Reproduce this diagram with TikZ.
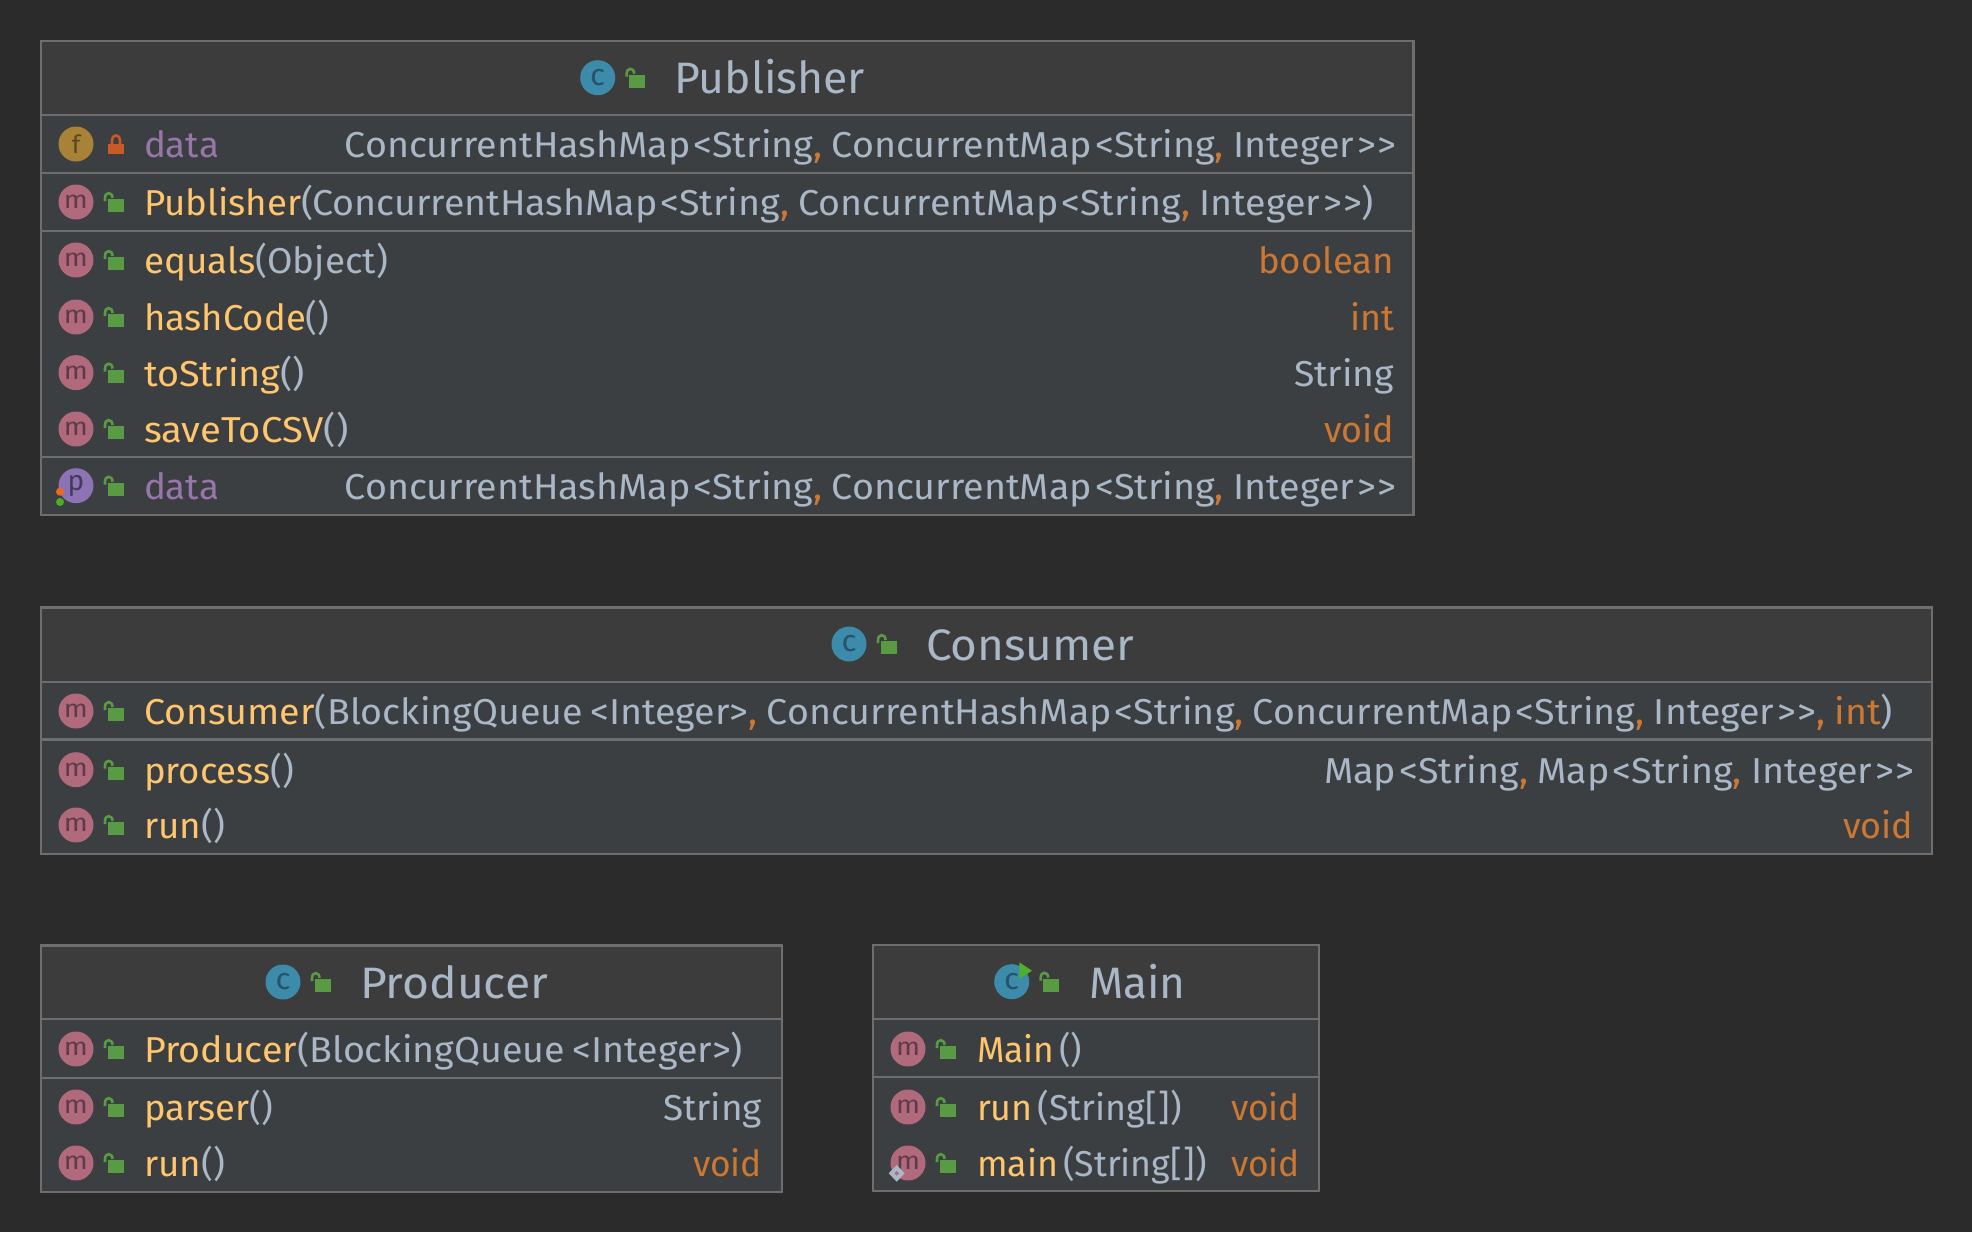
\documentclass[tikz,border=0pt]{standalone}
\usepackage{fontspec}
\usepackage{graphicx}
\setmainfont[Ligatures=NoCommon]{Fira Sans}
\definecolor{bgc}{HTML}{2B2B2B}
\definecolor{headc}{HTML}{3C3C3C}
\definecolor{bodyc}{HTML}{3C3F41}
\definecolor{linec}{HTML}{6E6E6E}
\definecolor{txt}{HTML}{A9B7C6}
\definecolor{meth}{HTML}{FFC66D}
\definecolor{fld}{HTML}{9876AA}
\definecolor{kw}{HTML}{CC7832}
\definecolor{mic}{HTML}{B06A7C}
\definecolor{mlt}{HTML}{5F3A48}
\definecolor{fic}{HTML}{A88236}
\definecolor{flt}{HTML}{5C4522}
\definecolor{pic}{HTML}{8C74B4}
\definecolor{plt}{HTML}{453A5E}
\definecolor{cic}{HTML}{3C8BAB}
\definecolor{clt}{HTML}{27546C}
\definecolor{lockg}{HTML}{599B43}
\definecolor{lockr}{HTML}{C75A26}
\definecolor{runt}{HTML}{4FB02E}
\definecolor{dotor}{HTML}{F26522}
\definecolor{dotgr}{HTML}{4CAF20}
\newcommand{\fitw}[2]{\resizebox{#1pt}{\height}{#2}}
\newcommand{\rowfont}{\fontsize{36}{40}\selectfont}
\newcommand{\headfont}{\fontsize{44}{48}\selectfont}
\newcommand{\icfont}{\fontsize{25}{28}\selectfont}
\newcommand{\cm}{\textcolor{kw}{,}\kern9pt}
\newcommand{\NM}[1]{\textcolor{meth}{#1}}
\newcommand{\TX}[1]{\textcolor{txt}{#1}}
\newcommand{\KW}[1]{\textcolor{kw}{#1}}
\newcommand{\FL}[1]{\textcolor{fld}{#1}}
\newcommand{\gtgt}{\kern3pt>\kern1pt{}>}
\newcommand{\chmtype}{\TX{ConcurrentHashMap\kern3pt<String}\cm\TX{ConcurrentMap\kern3pt<String}\cm\TX{Integer\gtgt}}
\tikzset{
  x=1pt,y=-1pt,
  classframe/.style={draw=linec,line width=2.2pt,fill=bodyc},
  headfill/.style={fill=headc},
  divline/.style={draw=linec,line width=2.2pt},
  rowtext/.style={inner sep=0pt,outer sep=0pt,font=\rowfont},
  headtext/.style={inner sep=0pt,outer sep=0pt,font=\headfont,text=txt},
  iconbase/.style={circle,inner sep=0pt,outer sep=0pt,minimum size=35pt,font=\icfont},
  micon/.style={iconbase,fill=mic,text=mlt},
  ficon/.style={iconbase,fill=fic,text=flt},
  picon/.style={iconbase,fill=pic,text=plt},
  cicon/.style={iconbase,fill=cic,text=clt},
}
\newcommand{\lockopen}[2]{\begin{scope}[shift={(#1,#2)}]
  \fill[lockg] (31.5,-3) rectangle (47.5,10);
  \draw[lockg,line width=2.6pt] (29,-1) -- (29,-4) .. controls (29,-10.5) and (36.5,-10.5) .. (36.5,-4);
\end{scope}}
\newcommand{\lockshut}[2]{\begin{scope}[shift={(#1,#2)}]
  \fill[lockr] (32,0) rectangle (48,10);
  \draw[lockr,line width=2.6pt] (36,1) -- (36,-3) .. controls (36,-10.5) and (44,-10.5) .. (44,-3) -- (44,1);
\end{scope}}
\newcommand{\classbox}[6]{%
  \path[classframe] (#2,#3) rectangle (#4,#5);
  \path[headfill] (#2+1.1,#3+1.1) rectangle (#4-1.1,#6);
  \coordinate (#1a) at (#2,#6); \coordinate (#1b) at (#4,#6);
  \path[divline] (#1a) -- (#1b);}
\newcommand{\divider}[4]{\coordinate (#1a) at (#2,#4); \coordinate (#1b) at (#3,#4); \path[divline] (#1a) -- (#1b);}
\newcommand{\mrow}[6]{%
  \node[micon] (#1icon) at (#2,#3) {\fitw{24}{m}};
  \lockopen{#2}{#3}
  \node[rowtext,anchor=base west] (#1text) at (#4-1,#3+13.6) {\fitw{#5}{#6}};}
\newcommand{\rtype}[5]{\node[rowtext,anchor=base east] (#1) at (#2,#3+13.6) {\fitw{#4}{#5}};}
\newcommand{\chead}[7]{%
  \node[cicon] (#1icon) at (#2,#3) {\fontsize{30}{30}\selectfont\fitw{15}{c}};
  \lockopen{#2}{#3}
  \node[headtext,anchor=base west] (#1title) at (#4,#6) {\fitw{#5}{#7}};}
\begin{document}
\begin{tikzpicture}
\useasboundingbox (0,0) rectangle (1972,1232);
\fill[bgc] (0,0) rectangle (1972,1232);

% ---------- Publisher
\classbox{pub}{41}{41}{1413.5}{515}{115}
\divider{pubd1}{41}{1413.5}{172.7}
\divider{pubd2}{41}{1413.5}{230.7}
\divider{pubd3}{41}{1413.5}{456.7}
\chead{pub}{597.7}{77.7}{674}{191}{93.5}{Publisher}
\node[ficon] (pubficon) at (76,144) {f};
\lockshut{76}{144}
\node[rowtext,anchor=base west] (pubfname) at (144,157.6) {\fitw{75}{\FL{data}}};
\rtype{pubftype}{1396}{144}{1051}{\chmtype}
\mrow{pubctor}{76}{202}{145}{1230}{\scalebox{0.975}[1]{\NM{Publisher}}\TX{(\kern-1pt ConcurrentHashMap\kern3pt<String}\cm\TX{ConcurrentMap\kern3pt<String}\cm\TX{Integer\gtgt)}}
\mrow{pubeq}{76}{260}{145}{244}{\NM{equals}\TX{(Object)}}
\rtype{pubeqt}{1394}{260}{136}{\KW{boolean}}
\mrow{pubhash}{76}{317}{145}{185.5}{\NM{hashCode}\TX{()}}
\rtype{pubhasht}{1394}{317}{44}{\KW{int}}
\mrow{pubstr}{76}{372.6}{145}{161}{\NM{toString}\TX{()}}
\rtype{pubstrt}{1394}{372.6}{100}{\TX{String}}
\mrow{pubsave}{76}{429}{145}{204.4}{\NM{saveToCSV}\TX{()}}
\rtype{pubsavet}{1394}{429}{70}{\KW{void}}
\node[picon] (pubpicon) at (76,485.7) {\fontsize{28}{28}\selectfont p};
\fill[dotor] (60,491.7) circle[radius=4];
\fill[dotgr] (60,502) circle[radius=4];
\lockopen{76}{485.7}
\node[rowtext,anchor=base west] (pubpname) at (144,499.3) {\fitw{75}{\FL{data}}};
\rtype{pubptype}{1396}{485.7}{1051}{\chmtype}

% ---------- Consumer
\classbox{con}{41}{607.5}{1932}{854}{681.7}
\divider{cond1}{41}{1932}{739.5}
\chead{con}{849}{644}{926}{208.5}{660}{Consumer}
\mrow{conctor}{76}{711}{145}{1749}{\NM{Consumer}\TX{(BlockingQueue\kern7pt<Integer>}\cm\TX{ConcurrentHashMap\kern3pt<String}\cm\TX{ConcurrentMap\kern3pt<String}\cm\TX{Integer\gtgt}\cm\KW{int}\TX{)}}
\mrow{conproc}{76}{769.7}{145}{150}{\NM{process}\TX{()}}
\rtype{conproct}{1914}{769.7}{590}{\TX{Map\kern3pt<String}\cm\TX{Map\kern3pt<String}\cm\TX{Integer\gtgt}}
\mrow{conrun}{76}{825}{145}{81}{\NM{run}\TX{()}}
\rtype{conrunt}{1913}{825}{70}{\KW{void}}

% ---------- Producer
\classbox{pro}{41}{945.5}{781.6}{1192}{1019}
\divider{prod1}{41}{781.6}{1078}
\chead{pro}{283}{982}{360}{188}{998.5}{Producer}
\mrow{proctor}{76}{1049}{145}{599}{\NM{Producer}\TX{(BlockingQueue\kern7pt<Integer>)}}
\mrow{propar}{76}{1107}{145}{129}{\NM{parser}\TX{()}}
\rtype{propart}{762}{1107}{99}{\TX{String}}
\mrow{prorun}{76}{1163}{145}{81}{\NM{run}\TX{()}}
\rtype{prorunt}{762}{1163}{69}{\KW{void}}

% ---------- Main
\classbox{mai}{872.7}{945}{1319}{1191}{1019}
\divider{maid1}{872.7}{1319}{1076.7}
\chead{mai}{1011.7}{981.7}{1089}{96.5}{998.5}{Main}
\fill[runt] (1019.3,962.3) -- (1032,970.7) -- (1019.3,979) -- cycle;
\mrow{maictor}{908}{1049}{978}{105}{\NM{Main}\TX{\kern5pt()}}
\mrow{mairun}{908}{1107}{978}{205}{\NM{run}\TX{\kern5pt(String[\kern2pt])}}
\rtype{mairunt}{1300}{1107}{69}{\KW{void}}
\mrow{maimain}{908}{1163}{978}{230}{\NM{main}\TX{\kern5pt(String[\kern2pt])}}
\rtype{maimaint}{1300}{1163}{69}{\KW{void}}
\fill[txt] (896.7,1165) -- (904.7,1173.3) -- (896.7,1181.6) -- (888.7,1173.3) -- cycle;
\fill[mic] (896.7,1171) -- (899,1173.3) -- (896.7,1175.6) -- (894.4,1173.3) -- cycle;
\end{tikzpicture}
\end{document}
